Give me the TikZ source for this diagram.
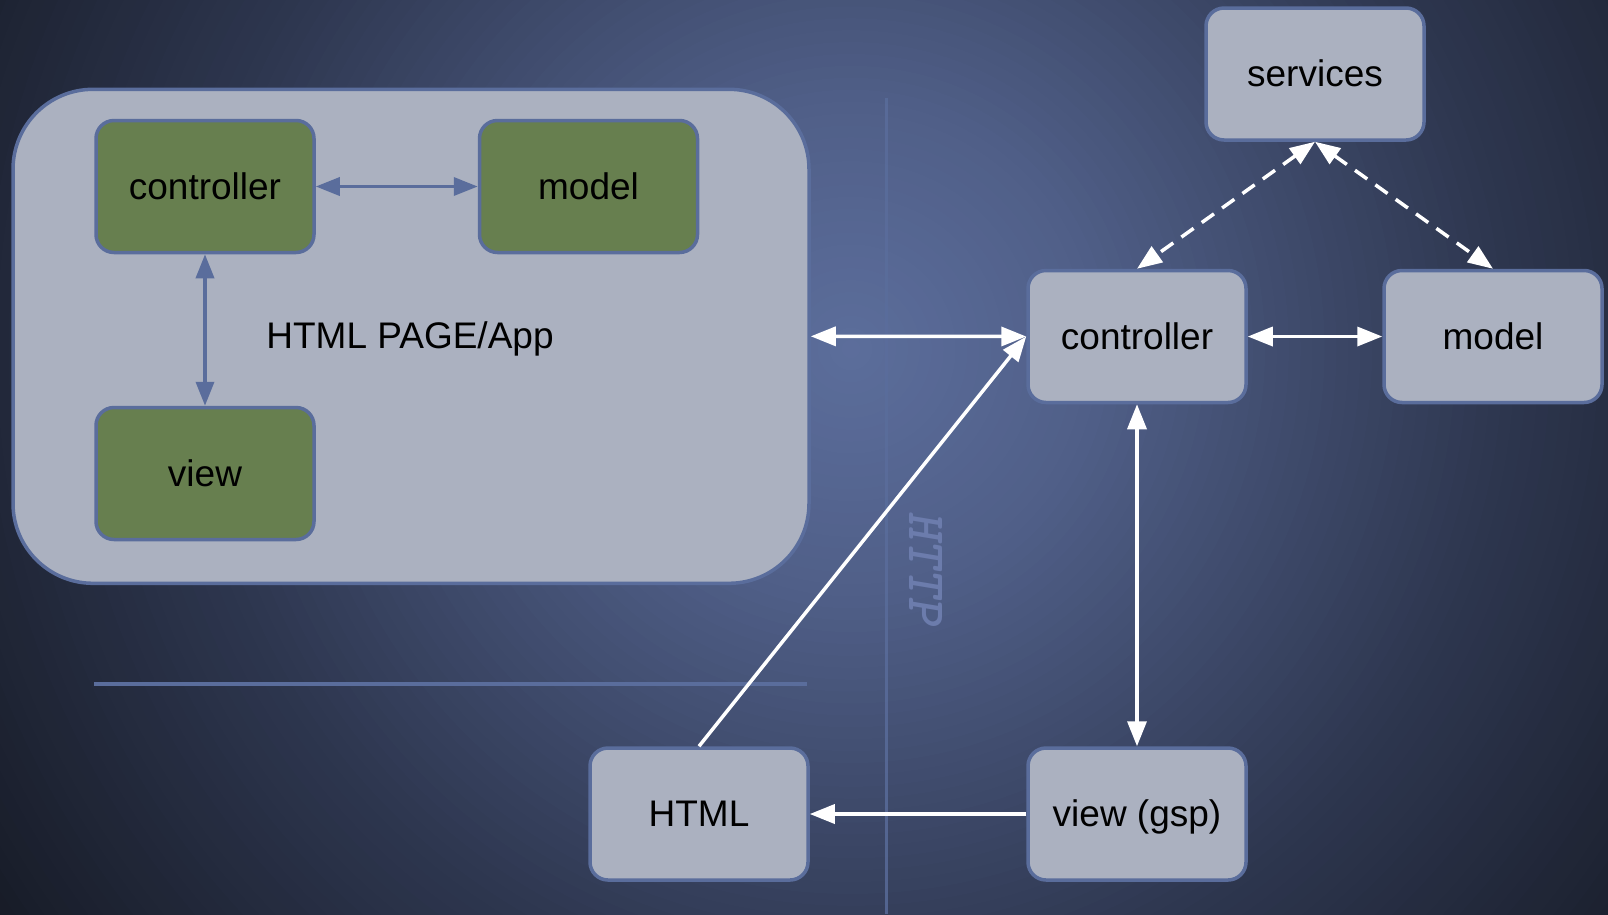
\documentclass[tikz,border=0pt]{standalone}
\usepackage{fontspec}
\setmainfont{Liberation Sans}
\newfontfamily\httpfont{lmmonolt10-boldoblique.otf}
\usetikzlibrary{arrows.meta}
\definecolor{bgA}{RGB}{92,110,156}
\definecolor{bgB}{RGB}{80,95,136}
\definecolor{bgC}{RGB}{46,55,80}
\definecolor{bgE}{RGB}{22,26,37}
\definecolor{panelfill}{RGB}{171,177,192}
\definecolor{edgeblue}{RGB}{90,109,156}
\definecolor{greenfill}{RGB}{103,127,79}
\definecolor{httpcol}{RGB}{108,124,172}
\tikzset{
  box/.style={draw=edgeblue, line width=3.5pt, rounded corners=18pt, fill=panelfill,
    minimum width=218pt, minimum height=132pt, inner sep=0pt,
    text height=26pt, text depth=1pt,
    font=\fontsize{37}{44}\selectfont, text=black},
  greenbox/.style={box, fill=greenfill},
  wlink/.style={draw=white, line width=3.5pt,
    {Triangle[length=25pt,width=19pt]}-{Triangle[length=25pt,width=19pt]}},
  wone/.style={draw=white, line width=3.5pt, -{Triangle[length=25pt,width=19pt]}},
  wdash/.style={wlink, dash pattern=on 15pt off 10pt},
  blink/.style={draw=edgeblue, line width=3.5pt,
    {Triangle[length=24pt,width=18pt]}-{Triangle[length=24pt,width=18pt]}},
  sepline/.style={draw=edgeblue, line width=3pt}
}
\begin{document}
\begin{tikzpicture}[x=1pt,y=-1pt]
\useasboundingbox (0,0) rectangle (1608,914);
\begin{scope}
  \clip (0,0) rectangle (1608,914);
  \fill[bgE] (0,0) rectangle (1608,914);
  \foreach \i in {0,...,95} {
    \pgfmathsetmacro\rr{1140-\i*11.9}
    \pgfmathsetmacro\ss{\rr<250 ? \rr/2.5 : 100}
    \pgfmathsetmacro\pp{\rr<250 ? 0 : (\rr<650 ? (\rr-250)/4 : 100)}
    \pgfmathsetmacro\qq{\rr<650 ? 0 : min(100,(\rr-650)/4)}
    \fill[color={bgE!\qq!bgC!\pp!bgB!\ss!bgA}] (851,349) circle[radius=\rr pt];
  }
\end{scope}
% separator lines
\coordinate (vtop) at (886,98);
\coordinate (vbot) at (886,914);
\coordinate (hl) at (94,684);
\coordinate (hr) at (807,684);
\draw[sepline, opacity=0.8] (vtop) -- (vbot);
\draw[sepline, line width=3.5pt] (hl) -- (hr);
\node[rotate=-90, text=httpcol, font={\httpfont\fontsize{54}{54}\selectfont}] (http) at (926,568) {HTTP};
% left panel
\node[draw=edgeblue, line width=3.5pt, fill=panelfill, rounded corners=80pt,
  minimum width=796pt, minimum height=494pt, inner sep=0pt] (panel) at (411,336.3) {};
\node[font=\fontsize{37}{44}\selectfont, text=black, text height=26pt, text depth=1pt] (ptext) at (410,336) {HTML PAGE/App};
\node[greenbox] (gctrl) at (205,186.5) {controller};
\node[greenbox] (gmodel) at (588.5,186.5) {model};
\node[greenbox] (gview) at (205,473.5) {view};
\draw[blink] (gctrl.east) -- (gmodel.west);
\draw[blink] (gctrl.south) -- (gview.north);
% right side
\node[box] (services) at (1315,74) {services};
\node[box] (rctrl) at (1137,336.5) {controller};
\node[box] (rmodel) at (1493,336.5) {model};
\node[box] (html) at (699,814) {HTML};
\node[box] (rview) at (1137,814) {view (gsp)};
\draw[wlink] (panel.east) -- (rctrl.west);
\draw[wone] (html.north) -- (rctrl.west);
\draw[wlink] (rctrl.east) -- (rmodel.west);
\draw[wlink] (rctrl.south) -- (rview.north);
\draw[wone] (rview.west) -- (html.east);
\draw[wdash] (services.south) -- (rctrl.north);
\draw[wdash] (services.south) -- (rmodel.north);
\end{tikzpicture}
\end{document}
